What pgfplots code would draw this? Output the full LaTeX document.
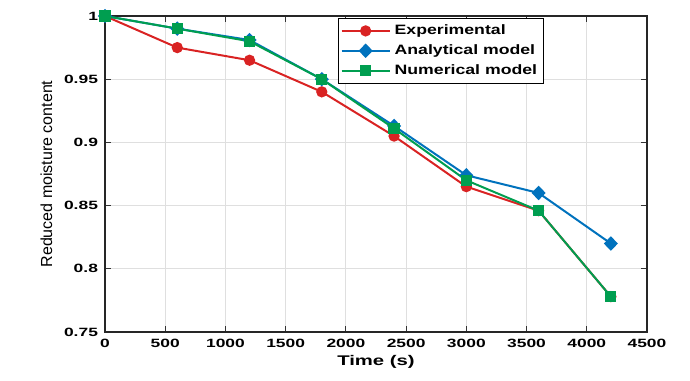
\documentclass[border=0pt]{standalone}
\usepackage{pgfplots}
\pgfplotsset{compat=1.18}
\usepackage{fontspec}
\setmainfont{Liberation Sans}
\newfontfamily\wide[FakeStretch=1.45]{Liberation Sans}
\newfontfamily\widel[FakeStretch=1.3]{Liberation Sans}
\definecolor{mred}{RGB}{217,35,35}
\definecolor{mblue}{RGB}{0,114,189}
\definecolor{mgreen}{RGB}{0,158,80}
\begin{document}
\begin{tikzpicture}
\path[use as bounding box] (-52.5pt,-24pt) rectangle (292.5pt,166pt);
\begin{axis}[
  at={(0pt,0pt)},anchor=south west,
  scale only axis,width=271pt,height=158pt,
  xmin=0,xmax=4500,ymin=0.75,ymax=1,
  xtick={0,500,...,4500},ytick={0.75,0.8,0.85,0.9,0.95,1},
  yticklabels={0.75,0.8,0.85,0.9,0.95,1},
  scaled x ticks=false,
  /pgf/number format/assume math mode=true,
  /pgf/number format/1000 sep={},
  tick align=inside,
  tick style={color=black!80,line width=0.5pt},
  major tick length=3pt,
  grid=major,
  major grid style={gray!25,line width=0.5pt},
  axis line style={black!85,line width=0.6pt},
  tick label style={font=\fontsize{6}{7}\selectfont\wide\bfseries},
  xlabel={Time (s)},
  ylabel={Reduced moisture content},
  xlabel style={font=\fontsize{7}{8}\selectfont\wide\bfseries,yshift=3pt},
  ylabel style={font=\fontsize{8}{9}\selectfont,yshift=-1pt},
  legend style={at={(0.81,0.995)},anchor=north east,
    draw=black,line width=0.5pt,fill=white,
    font=\fontsize{6.8}{8}\selectfont\widel\bfseries,
    inner sep=1.2pt,row sep=-0.5pt,
    cells={anchor=west}},
  legend image code/.code={
    \draw[#1] (0pt,0pt) -- (24pt,0pt);
    \draw[#1,mark repeat=1] plot coordinates {(12pt,0pt)};
  },
]
\addplot[mred,line width=1pt,mark=*,mark size=2.3pt] coordinates {
  (0,1) (600,0.975) (1200,0.965) (1800,0.94) (2400,0.905)
  (3000,0.865) (3600,0.846) (4200,0.778)
};
\addlegendentry{Experimental}
\addplot[mblue,line width=1pt,mark=diamond*,mark size=2.9pt,mark options={xscale=1.3}] coordinates {
  (0,1) (600,0.99) (1200,0.981) (1800,0.95) (2400,0.913)
  (3000,0.874) (3600,0.86) (4200,0.82)
};
\addlegendentry{Analytical model}
\addplot[mgreen,line width=1pt,mark=square*,mark size=2.3pt] coordinates {
  (0,1) (600,0.99) (1200,0.98) (1800,0.95) (2400,0.911)
  (3000,0.87) (3600,0.846) (4200,0.778)
};
\addlegendentry{Numerical model}
\end{axis}
\end{tikzpicture}
\end{document}
